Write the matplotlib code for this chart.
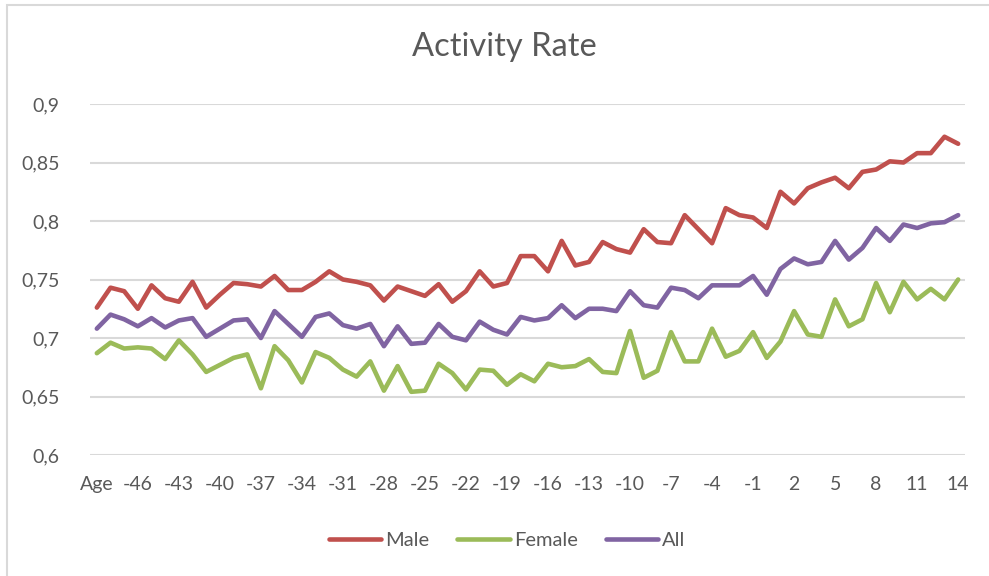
import matplotlib.pyplot as plt
from matplotlib.patches import Rectangle

# categories: "Age" followed by -48 .. 14
categories = ['Age'] + [str(v) for v in range(-48, 15)]

male = [0.726, 0.743, 0.740, 0.725, 0.745, 0.734, 0.731, 0.748, 0.726, 0.737,
        0.747, 0.746, 0.744, 0.753, 0.741, 0.741, 0.748, 0.757, 0.750, 0.748,
        0.745, 0.732, 0.744, 0.740, 0.736, 0.746, 0.731, 0.740, 0.757, 0.744,
        0.747, 0.770, 0.770, 0.757, 0.783, 0.762, 0.765, 0.782, 0.776, 0.773,
        0.793, 0.782, 0.781, 0.805, 0.793, 0.781, 0.811, 0.805, 0.803, 0.794,
        0.825, 0.815, 0.828, 0.833, 0.837, 0.828, 0.842, 0.844, 0.851, 0.850,
        0.858, 0.858, 0.872, 0.866]

female = [0.687, 0.696, 0.691, 0.692, 0.691, 0.682, 0.698, 0.686, 0.671, 0.677,
          0.683, 0.686, 0.657, 0.693, 0.681, 0.662, 0.688, 0.683, 0.673, 0.667,
          0.680, 0.655, 0.676, 0.654, 0.655, 0.678, 0.670, 0.656, 0.673, 0.672,
          0.660, 0.669, 0.663, 0.678, 0.675, 0.676, 0.682, 0.671, 0.670, 0.706,
          0.666, 0.672, 0.705, 0.680, 0.680, 0.708, 0.684, 0.689, 0.705, 0.683,
          0.697, 0.723, 0.703, 0.701, 0.733, 0.710, 0.716, 0.747, 0.722, 0.748,
          0.733, 0.742, 0.733, 0.750]

all_ = [0.708, 0.720, 0.716, 0.710, 0.717, 0.709, 0.715, 0.717, 0.701, 0.708,
        0.715, 0.716, 0.700, 0.723, 0.712, 0.701, 0.718, 0.721, 0.711, 0.708,
        0.712, 0.693, 0.710, 0.695, 0.696, 0.712, 0.701, 0.698, 0.714, 0.707,
        0.703, 0.718, 0.715, 0.717, 0.728, 0.717, 0.725, 0.725, 0.723, 0.740,
        0.728, 0.726, 0.743, 0.741, 0.734, 0.745, 0.745, 0.745, 0.753, 0.737,
        0.759, 0.768, 0.763, 0.765, 0.783, 0.767, 0.777, 0.794, 0.783, 0.797,
        0.794, 0.798, 0.799, 0.805]

y_ticks = [0.6, 0.65, 0.7, 0.75, 0.8, 0.85, 0.9]
y_tick_labels = ['0,6', '0,65', '0,7', '0,75', '0,8', '0,85', '0,9']

TEXT = '#595959'
GRID = '#D9D9D9'
plt.rcParams['font.family'] = ['Lato', 'DejaVu Sans']

fig = plt.figure(figsize=(9.89, 5.76), dpi=100)
ax = fig.add_axes([90 / 989, 1 - 455 / 576, 875 / 989, 351 / 576])

# chart border
fig.patches.append(Rectangle((7 / 989, -0.1), 1.2, 1 - 5 / 576 + 0.1,
                             transform=fig.transFigure, fill=False,
                             edgecolor=GRID, linewidth=1.5))

x = range(len(categories))
style = dict(lw=3.3, solid_capstyle='round', solid_joinstyle='round')
ax.plot(x, male, color='#C0504D', label='Male', **style)
ax.plot(x, female, color='#9BBB59', label='Female', **style)
ax.plot(x, all_, color='#8064A2', label='All', **style)

ax.set_xlim(-0.5, len(categories) - 0.5)
ax.set_ylim(0.6, 0.9)
ax.set_yticks(y_ticks)
ax.set_yticklabels(y_tick_labels)
ax.set_xticks(list(x)[::3])
ax.set_xticklabels(categories[::3])
ax.tick_params(length=0, labelsize=14, colors=TEXT)
ax.tick_params(axis='y', pad=22)
ax.tick_params(axis='x', pad=15)
ax.grid(axis='y', color=GRID, lw=1.5)
ax.set_axisbelow(True)
for spine in ax.spines.values():
    spine.set_visible(False)

fig.text(504 / 989, 1 - 47 / 576, 'Activity Rate', ha='center', va='center',
         fontsize=23.5, color=TEXT)

fig.legend(loc='center', bbox_to_anchor=(507 / 989, 1 - 540 / 576), ncol=3,
           frameon=False, fontsize=14.5, labelcolor=TEXT, handlelength=2.6,
           handletextpad=0.2, columnspacing=1.4)

fig.savefig('out.png', dpi=100)
